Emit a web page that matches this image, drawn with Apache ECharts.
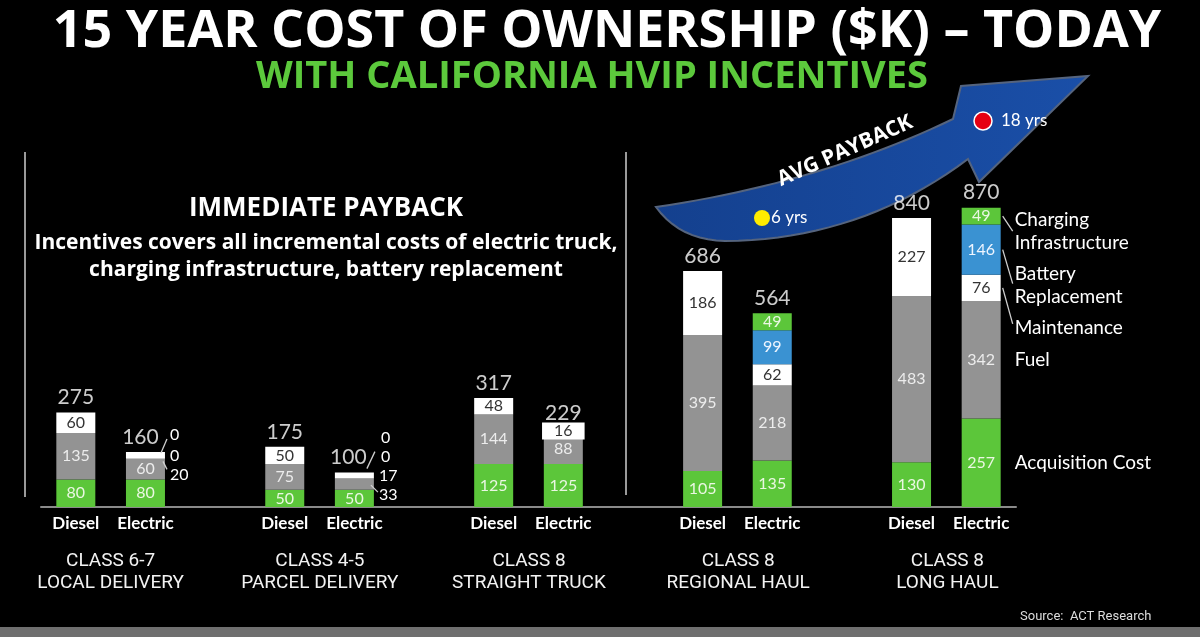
<!DOCTYPE html>
<html>
<head>
<meta charset="utf-8">
<title>15 Year Cost of Ownership</title>
<script src="https://cdn.jsdelivr.net/npm/echarts@6/dist/echarts.min.js"></script>
<style>
    html, body { margin: 0; padding: 0; background: #000; }
    #main { width: 1200px; height: 637px; }
</style>
</head>
<body>
<div id="main"></div>
<script>
// x slots, the blank ones separate the truck classes
var truckType = ['Diesel', 'Electric', '', 'Diesel', 'Electric', '', 'Diesel', 'Electric', '', 'Diesel', 'Electric', '', 'Diesel', 'Electric'];
var classNames = ['CLASS 6-7\nLOCAL DELIVERY', 'CLASS 4-5\nPARCEL DELIVERY', 'CLASS 8\nSTRAIGHT TRUCK', 'CLASS 8\nREGIONAL HAUL', 'CLASS 8\nLONG HAUL'];
// cost components ($K)
var acquisition = [80, 80, '-', 50, 50, '-', 125, 125, '-', 105, 135, '-', 130, 257];
var fuel        = [135, 60, '-', 75, 33, '-', 144, 88, '-', 395, 218, '-', 483, 342];
var maintenance = [60, 20, '-', 50, 17, '-', 48, 16, '-', 186, 62, '-', 227, 76];
var battery     = ['-', 0, '-', '-', 0, '-', '-', 0, '-', '-', 99, '-', '-', 146];
var charging    = ['-', 0, '-', '-', 0, '-', '-', 0, '-', '-', 49, '-', '-', 49];
var totals      = [275, 160, '-', 175, 100, '-', 317, 229, '-', 686, 564, '-', 840, 870];
var payback = ['6 yrs', '18 yrs'];

var seriesNames = ['Acquisition Cost', 'Fuel', 'Maintenance', 'Battery\nReplacement', 'Charging\nInfrastructure'];
var seriesValues = [acquisition, fuel, maintenance, battery, charging];
var seriesColors = ['#5cc63a', '#939393', '#ffffff', '#3a92d2', '#5cc63a'];
var labelColors = ['#eaf7e2', '#ececec', '#333333', '#eef5ff', '#eaf7e2'];

var BAR_W = 39;
var legendCat = 13;   // long haul electric carries the component names
// small segments labelled outside the bar: [category, series]
var callouts = [[1, 4], [1, 3], [1, 2], [4, 4], [4, 3], [4, 2], [4, 1]];
var boxedKey = '7-2';
// text offset from the bar's right edge at the segment middle, plus leader line
var calloutPos = {
    '1-4': {dx: 5, dy: -17, line: [-4, 1, 2, -13]},
    '1-3': {dx: 5, dy: 4},
    '1-2': {dx: 5, dy: 19, line: [-2, 6, 2, 14]},
    '4-4': {dx: 7, dy: -35},
    '4-3': {dx: 7, dy: -16, line: [-7, -4, 1, -21]},
    '4-2': {dx: 5, dy: 0},
    '4-1': {dx: 5, dy: 11, line: [-3, 1, 4, 8]},
    '13-4': {dx: 14, dy: 15, line: [2, 0, 12, 15]},
    '13-3': {dx: 14, dy: 36, line: [2, 0, 12, 34]},
    '13-2': {dx: 14, dy: 40, line: [2, 0, 12, 36]},
    '13-1': {dx: 14, dy: 0},
    '13-0': {dx: 14, dy: 0}
};
// totals nudged left where callouts sit beside them
var totalShift = {1: -5, 4: -6};

var calloutKeys = {};
callouts.forEach(function (c) { calloutKeys[c[0] + '-' + c[1]] = true; });

function num(v) { return v === '-' ? 0 : v; }
function segMid(cat, s) {
    var base = 0;
    for (var k = 0; k < s; k++) base += num(seriesValues[k][cat]);
    return base + num(seriesValues[s][cat]) / 2;
}

var series = [];
seriesValues.forEach(function (values, s) {
    var data = values.map(function (v, i) {
        if (v === '-') return '-';
        var key = i + '-' + s;
        var item = {value: v};
        if (v === 0 || calloutKeys[key]) item.label = {show: false};
        if (key === boxedKey) item.label = {show: true, backgroundColor: '#fff', padding: [1, 12, 0, 12], color: '#333'};
        return item;
    });
    series.push({
        name: seriesNames[s],
        type: 'bar',
        stack: 'cost',
        barWidth: BAR_W,
        data: data,
        itemStyle: {color: seriesColors[s]},
        label: {show: true, position: 'inside', color: labelColors[s], fontSize: 16, fontFamily: 'Lato'}
    });
});

// totals above each bar
var totalData = [];
totals.forEach(function (t, i) {
    if (t === '-') return;
    var sum = 0;
    seriesValues.forEach(function (vals) { sum += num(vals[i]); });
    totalData.push({value: [i, sum], label: {formatter: String(t), offset: [totalShift[i] || 0, 0]}});
});
series.push({
    type: 'scatter',
    data: totalData,
    symbolSize: 1,
    itemStyle: {color: 'rgba(0,0,0,0)'},
    silent: true,
    label: {show: true, position: 'top', distance: 4, color: '#fff', fontSize: 21, fontFamily: 'Lato'}
});

// outside labels and component names
var calloutList = callouts.map(function (c) {
    return {cat: c[0], s: c[1], text: String(seriesValues[c[1]][c[0]]), big: false};
});
seriesNames.forEach(function (n, s) {
    calloutList.push({cat: legendCat, s: s, text: n, big: true});
});
series.push({
    type: 'custom',
    clip: false,
    silent: true,
    z: 5,
    data: calloutList.map(function (c) { return [c.cat, segMid(c.cat, c.s)]; }),
    renderItem: function (params, api) {
        var c = calloutList[params.dataIndex];
        var p = calloutPos[c.cat + '-' + c.s];
        var pt = api.coord([api.value(0), api.value(1)]);
        var x0 = pt[0] + BAR_W / 2, y0 = pt[1];
        var children = [{
            type: 'text',
            style: {
                text: c.text, x: x0 + p.dx, y: y0 + p.dy,
                fill: '#fff', fontSize: c.big ? 19 : 16, fontFamily: 'Lato',
                lineHeight: 23, align: 'left', verticalAlign: 'middle'
            }
        }];
        if (p.line) {
            children.push({
                type: 'line',
                shape: {x1: x0 + p.line[0], y1: y0 + p.line[1], x2: x0 + p.line[2], y2: y0 + p.line[3]},
                style: {stroke: '#cfcfcf', lineWidth: 1.3}
            });
        }
        return {type: 'group', children: children};
    }
});

// payback arrow outline: two curved edges joined by the head
function quad(p0, c, p1, n) {
    var pts = [];
    for (var i = 0; i <= n; i++) {
        var t = i / n, u = 1 - t;
        pts.push([u * u * p0[0] + 2 * u * t * c[0] + t * t * p1[0], u * u * p0[1] + 2 * u * t * c[1] + t * t * p1[1]]);
    }
    return pts;
}
var arrowPts = quad([656, 207], [820, 183], [953, 119], 24)
    .concat([[961, 86], [1088, 76], [979, 182]])
    .concat(quad([968, 159], [860, 240], [725, 241], 20))
    .concat(quad([725, 241], [680, 240], [656, 207], 10).slice(1));

var chart = echarts.init(document.getElementById('main'));
var option = {
    backgroundColor: '#000',
    animation: false,
    grid: [
        {left: 41, right: 184, top: 163, height: 344},
        {left: 6, right: 148, top: 520, height: 20}
    ],
    xAxis: [{
        type: 'category',
        gridIndex: 0,
        data: truckType,
        axisLine: {lineStyle: {color: '#8a8a8a', width: 2}},
        axisTick: {show: false},
        axisLabel: {interval: 0, margin: 8, color: '#fff', fontWeight: 'bold', fontSize: 17, fontFamily: 'Lato'}
    }, {
        type: 'category',
        gridIndex: 1,
        data: classNames,
        axisLine: {show: false},
        axisTick: {show: false},
        axisLabel: {interval: 0, margin: 10, color: '#f2f2f2', fontSize: 19, lineHeight: 22, fontFamily: 'Roboto'}
    }],
    yAxis: [
        {type: 'value', gridIndex: 0, min: 0, max: 1000, show: false, splitLine: {show: false}},
        {type: 'value', gridIndex: 1, show: false}
    ],
    graphic: [
        {type: 'text', x: 607, y: 32, style: {text: '15 YEAR COST OF OWNERSHIP ($K) \u2013 TODAY', fill: '#fff', fontSize: 52, fontWeight: 'bold', fontFamily: 'Open Sans', align: 'center', verticalAlign: 'middle'}},
        {type: 'text', x: 592, y: 77, style: {text: 'WITH CALIFORNIA HVIP INCENTIVES', fill: '#5cc93c', fontSize: 38, fontWeight: 'bold', fontFamily: 'Open Sans', align: 'center', verticalAlign: 'middle'}},
        {type: 'text', x: 326, y: 209, style: {text: 'IMMEDIATE PAYBACK', fill: '#fff', fontSize: 26, fontWeight: 'bold', fontFamily: 'Open Sans', align: 'center', verticalAlign: 'middle'}},
        {type: 'text', x: 326, y: 243, style: {text: 'Incentives covers all incremental costs of electric truck,', fill: '#fff', fontSize: 21, fontWeight: 'bold', fontFamily: 'Open Sans', align: 'center', verticalAlign: 'middle'}},
        {type: 'text', x: 326, y: 270, style: {text: 'charging infrastructure, battery replacement', fill: '#fff', fontSize: 21, fontWeight: 'bold', fontFamily: 'Open Sans', align: 'center', verticalAlign: 'middle'}},
        {type: 'line', shape: {x1: 25, y1: 152, x2: 25, y2: 497}, style: {stroke: '#9a9a9a', lineWidth: 2}},
        {type: 'line', shape: {x1: 626, y1: 152, x2: 626, y2: 495}, style: {stroke: '#9a9a9a', lineWidth: 2}},
        {
            type: 'polygon',
            shape: {points: arrowPts},
            style: {
                fill: new echarts.graphic.LinearGradient(0, 0, 1, 0, [{offset: 0, color: '#14408e'}, {offset: 1, color: '#1a4fa8'}]),
                stroke: '#55647e', lineWidth: 2
            }
        },
        {type: 'text', x: 845, y: 151, rotation: 0.42, style: {text: 'AVG PAYBACK', fill: '#fff', fontSize: 21, fontWeight: 'bold', fontFamily: 'Open Sans', align: 'center', verticalAlign: 'middle'}},
        {type: 'circle', shape: {cx: 762, cy: 218, r: 8}, style: {fill: '#ffec00'}},
        {type: 'text', x: 771, y: 218, style: {text: payback[0], fill: '#fff', fontSize: 17, fontFamily: 'Lato', verticalAlign: 'middle'}},
        {type: 'circle', shape: {cx: 983, cy: 121, r: 9}, style: {fill: '#e60012', stroke: '#fff', lineWidth: 1.5}},
        {type: 'text', x: 1001, y: 121, style: {text: payback[1], fill: '#fff', fontSize: 17, fontFamily: 'Lato', verticalAlign: 'middle'}},
        {type: 'text', x: 1020, y: 617, style: {text: 'Source:  ACT Research', fill: '#dddddd', fontSize: 13, fontFamily: 'Roboto', verticalAlign: 'middle'}},
        {type: 'rect', shape: {x: 0, y: 627, width: 1200, height: 10}, style: {fill: '#6f6f6f'}}
    ],
    series: series
};
chart.setOption(option);
window.addEventListener('resize', function () {
    chart.resize();
});
</script>
</body>
</html>
